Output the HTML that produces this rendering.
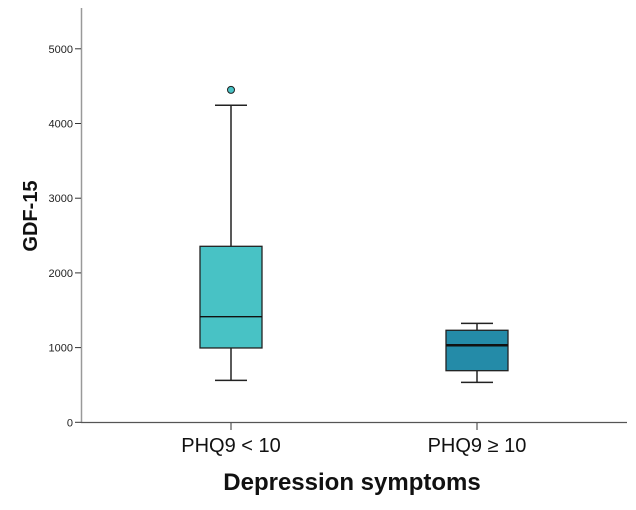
<!DOCTYPE html>
<html><head><meta charset="utf-8"><style>body{margin:0;background:#fff}svg{display:block;font-family:"Liberation Sans",sans-serif}</style></head>
<body>
<svg id="chart" width="636" height="510" xmlns="http://www.w3.org/2000/svg"></svg>
<script>
const categories=["PHQ9 < 10","PHQ9 \u2265 10"];
const q1s=[995,691];
const medians=[1414,1031];
const q3s=[2356,1232];
const whiskerLow=[562,535];
const whiskerHigh=[4244,1325];
const outliers=[[4450],[]];
const fills=["#48c2c5","#248ba8"];
const yTicks=[0,1000,2000,3000,4000,5000];
const NS="http://www.w3.org/2000/svg";
const svg=document.getElementById('chart');
const y0=422.3,pxPer=0.0747;
function y(v){return y0-v*pxPer;}
const xCenters=[231,477];
function x(i){return xCenters[i];}
function el(t,a,p){const e=document.createElementNS(NS,t);for(const k in a)e.setAttribute(k,a[k]);(p||svg).appendChild(e);return e;}
const ya=el('line',{x1:81.5,y1:8,x2:81.5,y2:423,stroke:'#999','stroke-width':1.5});


const xa=el('line',{x1:81,y1:422.5,x2:627,y2:422.5,stroke:'#555','stroke-width':1.2});


yTicks.forEach(v=>{
 const t=el('line',{x1:75,y1:y(v),x2:81,y2:y(v),stroke:'#333','stroke-width':1});
 
 
 const l=el('text',{x:73,y:y(v)+4,'text-anchor':'end','font-size':11,fill:'#222'});
 l.textContent=v;
 
 
});
categories.forEach((c,i)=>{
 const cx=x(i);
 const t=el('line',{x1:cx,y1:423,x2:cx,y2:430,stroke:'#333','stroke-width':1});
 
 
 const l=el('text',{x:cx,y:452,'text-anchor':'middle','font-size':20,fill:'#111'});
 l.textContent=c;
 
 
 const g=el('g',{});
 
 
 el('line',{x1:cx,y1:y(whiskerHigh[i]),x2:cx,y2:y(q3s[i]),stroke:'#222','stroke-width':1.5},g);
 el('line',{x1:cx,y1:y(q1s[i]),x2:cx,y2:y(whiskerLow[i]),stroke:'#222','stroke-width':1.5},g);
 el('line',{x1:cx-16,y1:y(whiskerHigh[i]),x2:cx+16,y2:y(whiskerHigh[i]),stroke:'#222','stroke-width':1.5},g);
 el('line',{x1:cx-16,y1:y(whiskerLow[i]),x2:cx+16,y2:y(whiskerLow[i]),stroke:'#222','stroke-width':1.5},g);
 el('rect',{x:cx-31,y:y(q3s[i]),width:62,height:y(q1s[i])-y(q3s[i]),fill:fills[i],stroke:'#222','stroke-width':1.3},g);
 el('line',{x1:cx-31,y1:y(medians[i]),x2:cx+31,y2:y(medians[i]),stroke:'#111','stroke-width':i==1?2.5:1.3},g);
 outliers[i].forEach(o=>{
  const d=el('circle',{cx:cx,cy:y(o),r:3.5,fill:fills[i],stroke:'#222','stroke-width':1});
  
  
 });
});
const yt=el('text',{x:0,y:0,transform:'translate(37,216) rotate(-90)','text-anchor':'middle','font-size':20,'font-weight':'bold',fill:'#111'});
yt.textContent='GDF-15';


const xt=el('text',{x:352,y:490,'text-anchor':'middle','font-size':24,'font-weight':'bold',fill:'#111'});
xt.textContent='Depression symptoms';


</script>
</body></html>
